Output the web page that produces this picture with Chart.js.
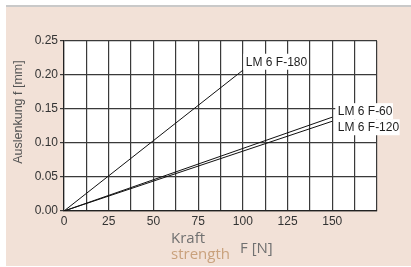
<!DOCTYPE html>
<html>
<head>
<meta charset="utf-8">
<script src="https://cdn.jsdelivr.net/npm/chart.js@4"></script>
<style>
    html, body { margin: 0; padding: 0; background: #ffffff; }
    body { width: 411px; height: 267px; position: relative; overflow: hidden; }
    .panel {
        position: absolute; left: 6px; top: 5px; width: 405px; height: 261px;
        background: #f2e1d7; border-top: 2px solid #c9c9c9; box-sizing: border-box;
    }
    #wrap { position: absolute; left: 0; top: 0; width: 411px; height: 267px; }
</style>
</head>
<body>
<div class="panel"></div>
<div id="wrap"><canvas id="chart"></canvas></div>
<script>
// Daten
const seriesNames = ['LM 6 F-180', 'LM 6 F-60', 'LM 6 F-120'];
const f180Force = [0, 100];
const f180Defl = [0, 0.207];
const f60Force = [0, 150];
const f60Defl = [0, 0.138];
const f120Force = [0, 150];
const f120Defl = [0, 0.132];
const xTickLabels = [0, 25, 50, 75, 100, 125, 150];
const yTickLabels = [0, 0.05, 0.10, 0.15, 0.20, 0.25];

const tickFont = { family: "'Liberation Sans', Arial, sans-serif", size: 12 };

function toPoints(xs, ys) {
    return xs.map((x, i) => ({ x: x, y: ys[i] }));
}

// Label-Versatz relativ zum Linienende
const labelOffsets = [
    { dx: 3, dy: -4.5 },
    { dx: 5.5, dy: -2 },
    { dx: 5.5, dy: 10 }
];

const plotBackground = {
    id: 'plotBackground',
    beforeDraw(chart) {
        const { ctx, chartArea: a } = chart;
        ctx.save();
        ctx.fillStyle = '#ffffff';
        ctx.fillRect(a.left, a.top, a.right - a.left, a.bottom - a.top);
        ctx.restore();
    }
};

const endLabels = {
    id: 'endLabels',
    afterDatasetsDraw(chart) {
        const { ctx } = chart;
        ctx.save();
        ctx.font = "12px 'Liberation Sans', Arial, sans-serif";
        ctx.textBaseline = 'alphabetic';
        chart.data.datasets.forEach((ds, i) => {
            const meta = chart.getDatasetMeta(i);
            const last = meta.data[meta.data.length - 1];
            const off = labelOffsets[i];
            const tx = last.x + off.dx;
            const ty = last.y + off.dy;
            const w = ctx.measureText(ds.label).width;
            ctx.fillStyle = '#ffffff';
            ctx.fillRect(tx - 2.5, ty - 12, w + 3, 16);
            ctx.fillStyle = '#1e1e1e';
            ctx.fillText(ds.label, tx, ty);
        });
        ctx.restore();
    }
};

const axisTitles = {
    id: 'axisTitles',
    afterDraw(chart) {
        const { ctx } = chart;
        ctx.save();
        // Y-Achse
        ctx.translate(19, 112);
        ctx.rotate(-Math.PI / 2);
        ctx.font = "12.5px 'Liberation Sans Narrow', 'Liberation Sans', Arial, sans-serif";
        ctx.fillStyle = '#555555';
        ctx.textAlign = 'center';
        ctx.textBaseline = 'middle';
        ctx.fillText('Auslenkung f [mm]', 0, 0);
        ctx.restore();

        ctx.save();
        ctx.font = "15px 'Open Sans', sans-serif";
        ctx.textBaseline = 'alphabetic';
        ctx.fillStyle = '#707070';
        ctx.fillText('Kraft', 171, 243);
        ctx.fillStyle = '#c9a17c';
        ctx.fillText('strength', 171, 259);
        ctx.fillStyle = '#707070';
        ctx.fillText('F [N]', 240, 253);
        ctx.restore();
    }
};

function initializeChart() {
    const ctx = document.getElementById('chart').getContext('2d');
    const sets = [
        toPoints(f180Force, f180Defl),
        toPoints(f60Force, f60Defl),
        toPoints(f120Force, f120Defl)
    ];

    return new Chart(ctx, {
        type: 'line',
        data: {
            datasets: seriesNames.map((name, i) => ({
                label: name,
                data: sets[i],
                borderColor: '#111111',
                borderWidth: 1,
                pointRadius: 0,
                tension: 0,
                fill: false
            }))
        },
        options: {
            responsive: true,
            maintainAspectRatio: false,
            animation: false,
            layout: { padding: { top: 41, right: 34, left: 0, bottom: 0 } },
            plugins: {
                legend: { display: false },
                tooltip: { enabled: false }
            },
            scales: {
                x: {
                    type: 'linear',
                    min: 0,
                    max: 175,
                    afterFit: scale => { scale.height = 56; },
                    afterBuildTicks: scale => {
                        const t = [];
                        for (let i = 0; i <= 14; i++) t.push({ value: i * 12.5 });
                        scale.ticks = t;
                    },
                    ticks: {
                        font: tickFont,
                        color: '#333333',
                        padding: 3,
                        maxRotation: 0,
                        autoSkip: false,
                        callback: v => xTickLabels.includes(v) ? String(v) : ''
                    },
                    grid: { color: '#3a3a3a', lineWidth: 1.2, drawTicks: false },
                    border: { color: '#222222', width: 1.2 }
                },
                y: {
                    min: 0,
                    max: 0.25,
                    afterFit: scale => { scale.width = 64; },
                    afterBuildTicks: scale => {
                        scale.ticks = yTickLabels.map(v => ({ value: v }));
                    },
                    ticks: {
                        font: tickFont,
                        color: '#333333',
                        padding: 2,
                        callback: v => v.toFixed(2)
                    },
                    grid: { color: '#3a3a3a', lineWidth: 1.2, tickLength: 4 },
                    border: { color: '#222222', width: 1.2 }
                }
            }
        },
        plugins: [plotBackground, endLabels, axisTitles]
    });
}

document.addEventListener('DOMContentLoaded', () => {
    initializeChart();
});
</script>
</body>
</html>
